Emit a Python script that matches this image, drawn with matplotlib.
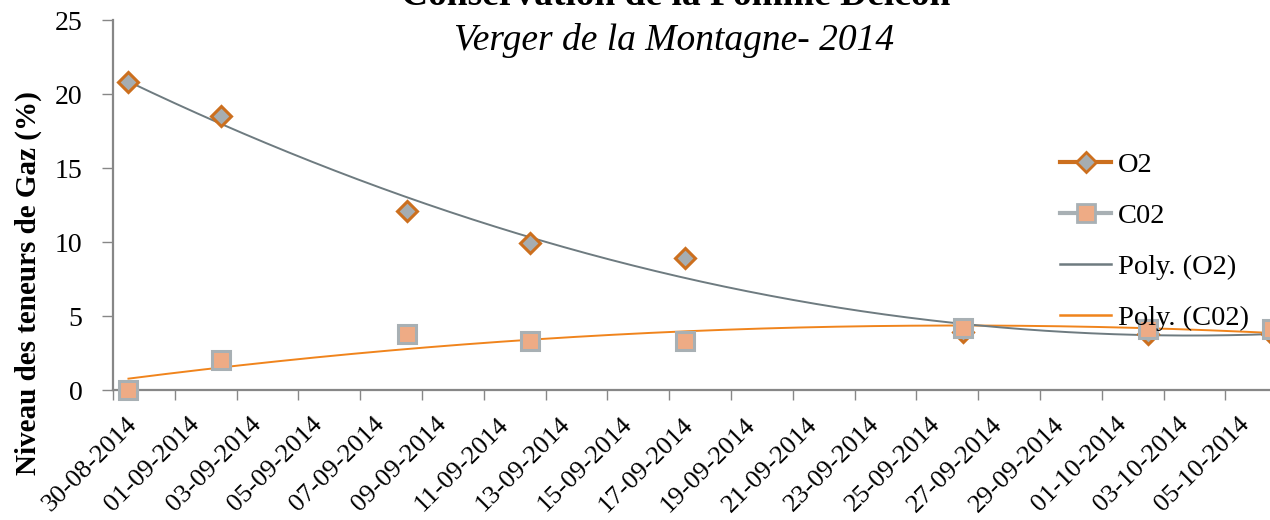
import matplotlib
matplotlib.use("Agg")
from matplotlib import pyplot as plt
from matplotlib.lines import Line2D
import numpy as np
import datetime as dt

# mesures (jour de prélèvement, teneurs en %)
dates = ["30-08-2014", "02-09-2014", "08-09-2014", "12-09-2014",
         "17-09-2014", "26-09-2014", "02-10-2014", "06-10-2014"]
o2 = [20.8, 18.5, 12.1, 9.9, 8.9, 3.9, 3.8, 3.8]
co2 = [0.0, 2.0, 3.8, 3.3, 3.3, 4.2, 4.1, 4.1]

start = dt.date(2014, 8, 30)
n_days = 38
tick_step = 2

plt.rcParams['font.family'] = ['Liberation Serif', 'DejaVu Serif']

orange = "#CC6F1E"
gray_face = "#A6ADB1"
salmon = "#EEAB85"
gray_edge = "#A8B0B4"
trend_gray = "#6E7B80"
trend_orange = "#F0841C"
axis_col = "#878787"

# position en jours (milieu du jour, comme l'axe date d'Excel)
x = np.array([(dt.datetime.strptime(d, "%d-%m-%Y").date() - start).days for d in dates]) + 0.5

fig = plt.figure(figsize=(12.7, 5.2), dpi=100)
ax = fig.add_axes([113 / 1270, 130 / 520, (n_days * 30.9) / 1270, 370 / 520])

# courbes de tendance polynomiales (ordre 2)
xs = np.linspace(x.min(), x.max(), 400)
p_o2 = np.polyfit(x, o2, 2)
p_co2 = np.polyfit(x, co2, 2)
ax.plot(xs, np.polyval(p_co2, xs), color=trend_orange, lw=1.4, zorder=2)
ax.plot(xs, np.polyval(p_o2, xs), color=trend_gray, lw=1.4, zorder=2)

ax.plot(x, o2, linestyle="none", marker="D", markersize=10, markerfacecolor=gray_face,
        markeredgecolor=orange, markeredgewidth=2.2, zorder=3, clip_on=False)
ax.plot(x, co2, linestyle="none", marker="s", markersize=13, markerfacecolor=salmon,
        markeredgecolor=gray_edge, markeredgewidth=2.2, zorder=4, clip_on=False)

ax.set_xlim(0, n_days)
ax.set_ylim(0, 25)
ax.set_yticks(range(0, 26, 5))
ticks = np.arange(0, n_days, tick_step)
ax.set_xticks(ticks)
ax.set_xticklabels([(start + dt.timedelta(days=int(t))).strftime("%d-%m-%Y") for t in ticks],
                   rotation=45, ha="right", va="top", rotation_mode="anchor")
ax.tick_params(axis="x", labelsize=19, length=7, width=1, color=axis_col, pad=4)
ax.tick_params(axis="y", labelsize=20, length=8, width=1, color=axis_col, pad=14)
for lab in ax.get_xticklabels():
    lab.set_transform(lab.get_transform() + matplotlib.transforms.ScaledTranslation(0.13, -0.08, fig.dpi_scale_trans))

for s in ["top", "right"]:
    ax.spines[s].set_visible(False)
for s in ["left", "bottom"]:
    ax.spines[s].set_color(axis_col)
    ax.spines[s].set_linewidth(1.6)

fig.text(28 / 1270, 1 - 283 / 520, "Niveau des teneurs de Gaz (%)", rotation=90,
         ha="center", va="center", fontsize=21, fontweight="bold")

fig.text(676 / 1270, 1 - 5 / 520, "Conservation de la Pomme Delcon", ha="center",
         va="baseline", fontsize=27, fontweight="bold")
fig.text(674 / 1270, 1 - 40 / 520, "Verger de la Montagne- 2014", ha="center",
         va="center", fontsize=27, style="italic")

handles = [
    Line2D([], [], color=orange, lw=3, marker="D", markersize=10, markerfacecolor=gray_face,
           markeredgecolor=orange, markeredgewidth=2),
    Line2D([], [], color=gray_edge, lw=3, marker="s", markersize=13, markerfacecolor=salmon,
           markeredgecolor=gray_edge, markeredgewidth=2),
    Line2D([], [], color=trend_gray, lw=1.8),
    Line2D([], [], color=trend_orange, lw=1.8),
]
fig.legend(handles, ["O2", "C02", "Poly. (O2)", "Poly. (C02)"], loc="upper left",
           bbox_to_anchor=(1060 / 1270, 1 - 152 / 520), frameon=False, fontsize=20.5,
           handlelength=1.8, handletextpad=0.25, labelspacing=0.88, borderpad=0,
           borderaxespad=0)

fig.savefig("out.png", dpi=100)
